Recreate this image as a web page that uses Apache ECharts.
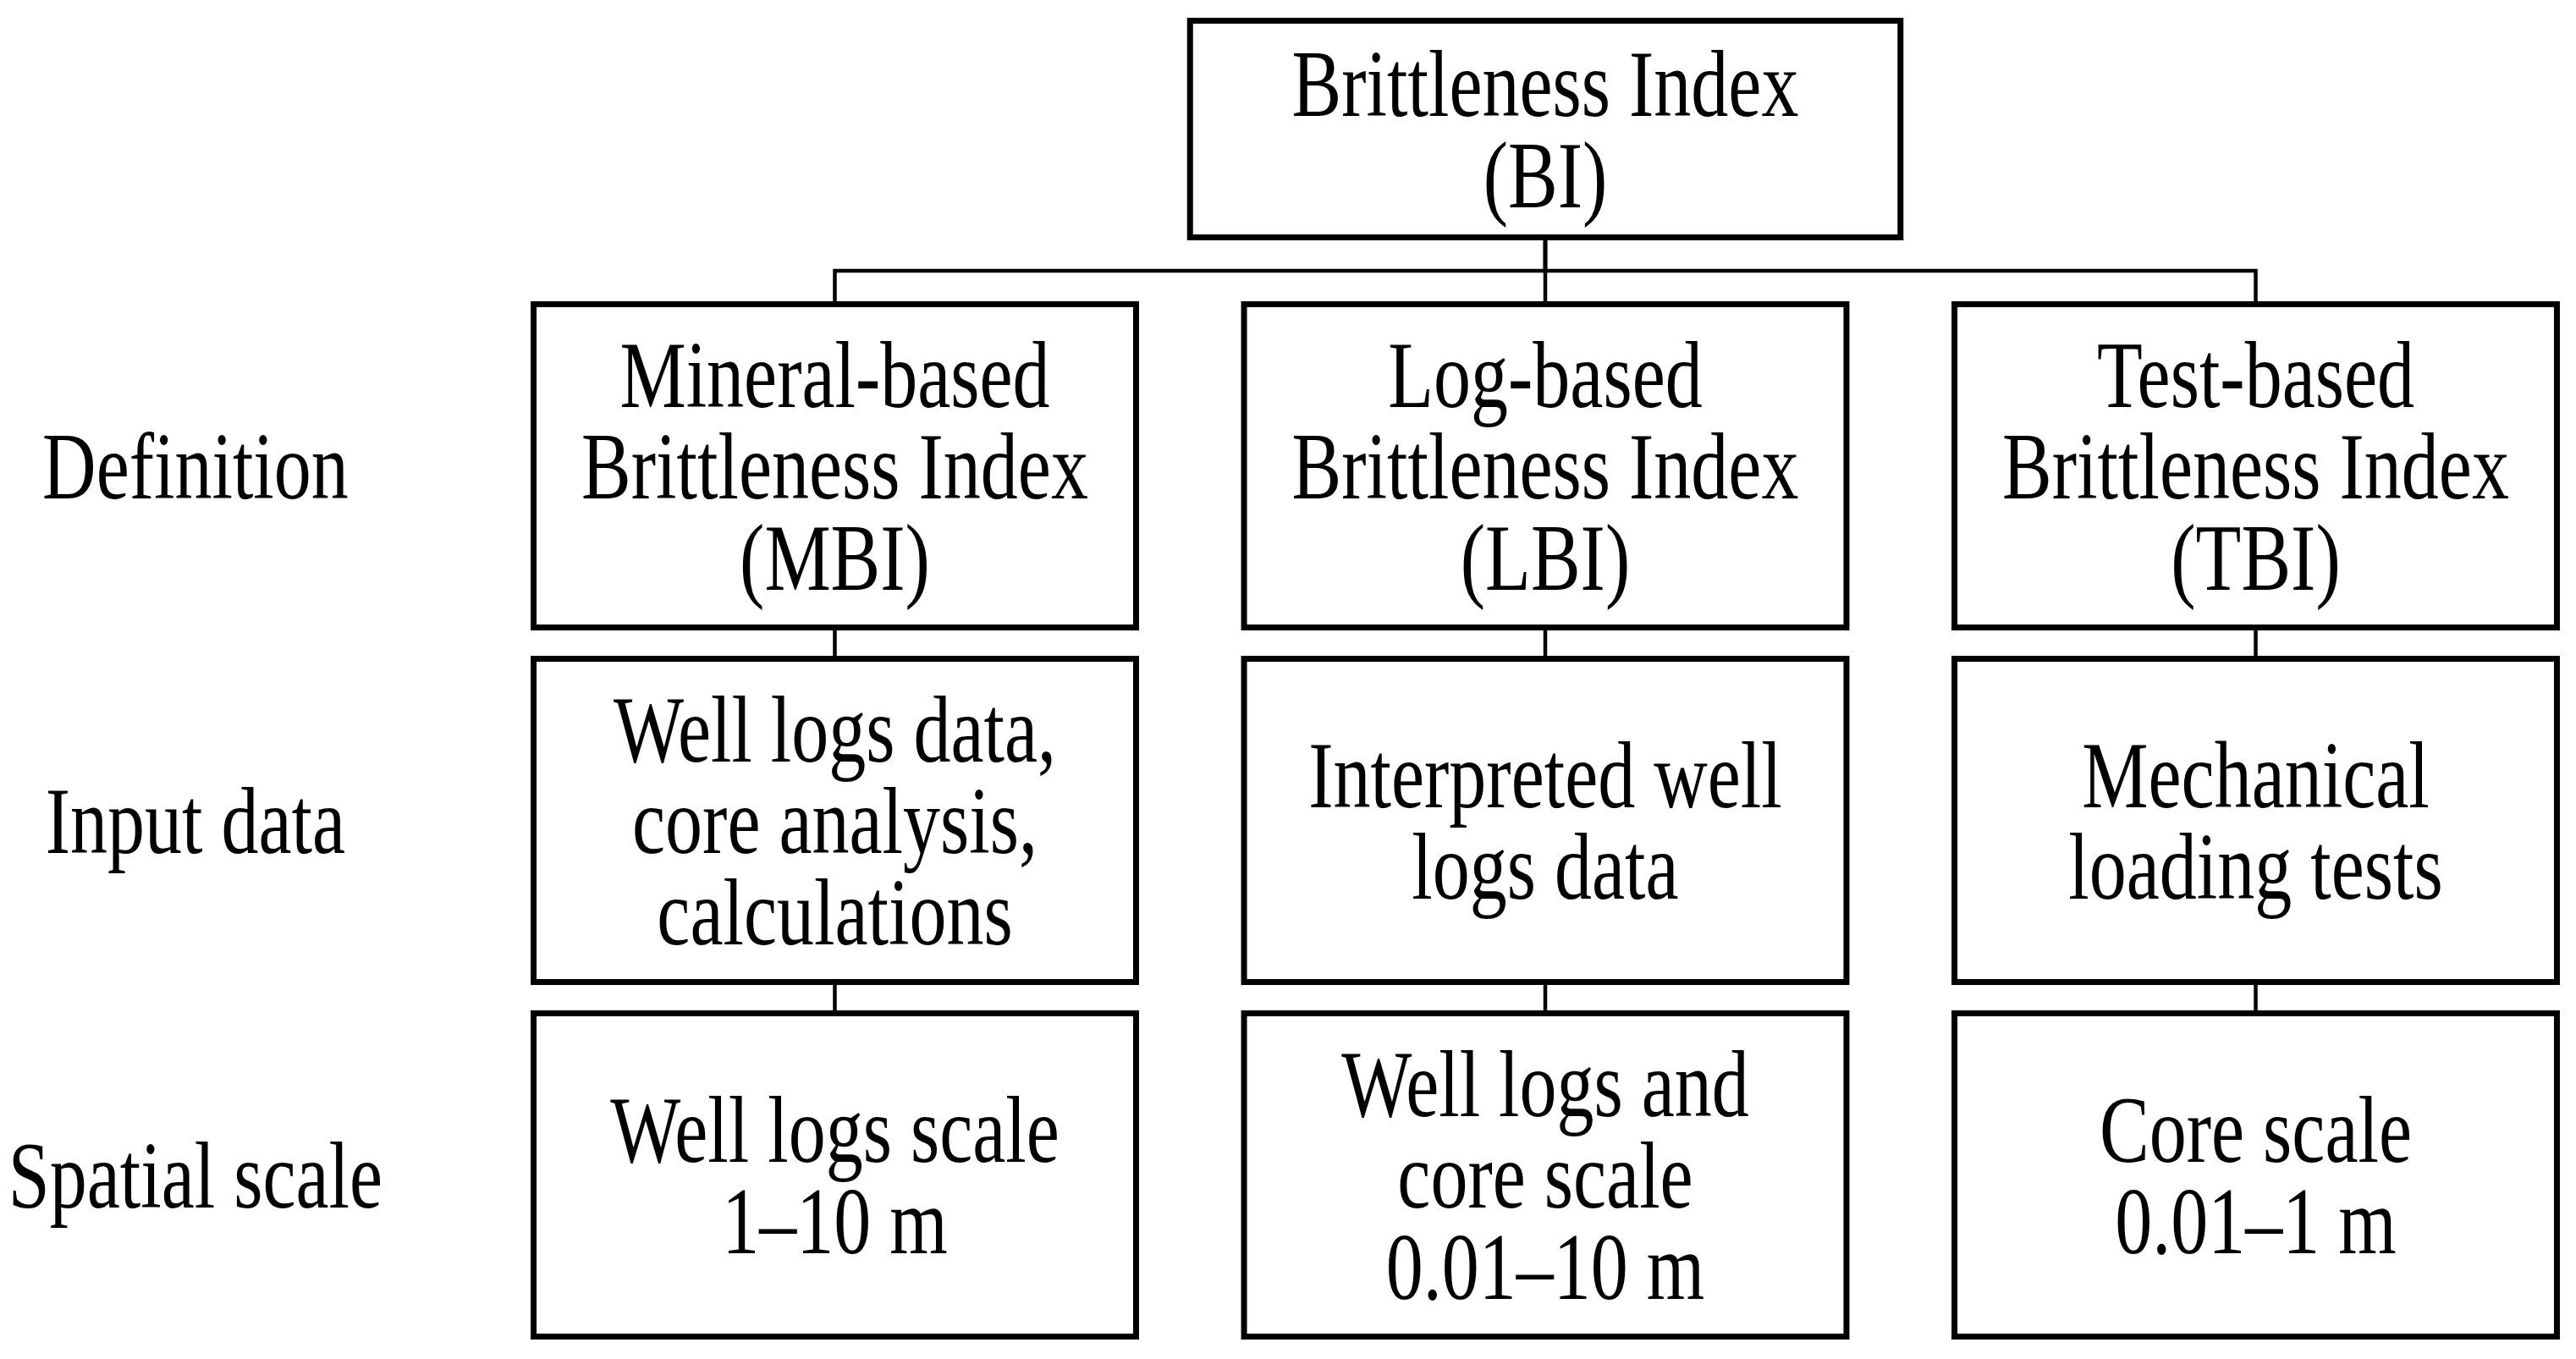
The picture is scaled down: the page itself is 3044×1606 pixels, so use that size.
<!DOCTYPE html>
<html>
<head>
<meta charset="utf-8">
<title>Brittleness Index</title>
<script src="https://cdn.jsdelivr.net/npm/echarts@6/dist/echarts.min.js"></script>
<style>
  html, body { margin: 0; padding: 0; background: #fff; }
  #chart { width: 3044px; height: 1606px; }
</style>
</head>
<body>
<div id="chart"></div>
<script>
// row labels on the left
var rowLabels = ['Definition', 'Input data', 'Spatial scale'];
var rowLevels = [1, 2, 3];
var labelCol = 0.1;

// boxes: column, level and text
var nodeText = [
    'Brittleness Index\n(BI)',
    'Mineral-based\nBrittleness Index\n(MBI)',
    'Log-based\nBrittleness Index\n(LBI)',
    'Test-based\nBrittleness Index\n(TBI)',
    'Well logs data,\ncore analysis,\ncalculations',
    'Interpreted well\nlogs data',
    'Mechanical\nloading tests',
    'Well logs scale\n1\u201310 m',
    'Well logs and\ncore scale\n0.01\u201310 m',
    'Core scale\n0.01\u20131 m'
];
var nodeCol = [2, 1, 2, 3, 1, 2, 3, 1, 2, 3];
var nodeLevel = [0.05, 1, 1, 1, 2, 2, 2, 3, 3, 3];

// parent -> child links
var edges = [[0, 1], [0, 2], [0, 3], [1, 4], [2, 5], [3, 6], [4, 7], [5, 8], [6, 9]];

// box sizes in axis units
var rootSize = [1.0, 0.611];
var boxSize = [0.848, 0.912];

var fontFamily = '"Liberation Serif", "Times New Roman", serif';
var stretchY = 1.27;
var textShift = 9;

function sizeOf(i) {
    return i === 0 ? rootSize : boxSize;
}

function textEl(cx, cy, text) {
    return {
        type: 'text',
        x: cx,
        y: cy + textShift,
        scaleY: stretchY,
        style: {
            text: text,
            x: 0,
            y: 0,
            fontSize: 88,
            lineHeight: 85,
            fontFamily: fontFamily,
            fill: '#000',
            align: 'center',
            verticalAlign: 'middle'
        }
    };
}

var nodeData = [];
for (var i = 0; i < nodeText.length; i++) {
    nodeData.push([nodeCol[i], nodeLevel[i], i]);
}
var edgeData = [];
for (var j = 0; j < edges.length; j++) {
    var a = edges[j][0], b = edges[j][1];
    edgeData.push([nodeCol[a], nodeLevel[a], nodeCol[b], nodeLevel[b], j]);
}
var labelData = [];
for (var k = 0; k < rowLabels.length; k++) {
    labelData.push([labelCol, rowLevels[k], k]);
}

var myChart = echarts.init(document.getElementById('chart'));
var option = {
    animation: false,
    backgroundColor: '#fff',
    grid: { left: 147, top: 131.5, width: 2854.3, height: 1466.5 },
    xAxis: { type: 'value', min: 0, max: 3.4, show: false },
    yAxis: { type: 'value', min: 0, max: 3.5, inverse: true, show: false },
    series: [
        {
            type: 'custom',
            name: 'links',
            z: 1,
            data: edgeData,
            encode: { x: [0, 2], y: [1, 3] },
            renderItem: function (params, api) {
                var e = edges[api.value(4)];
                var p = api.coord([api.value(0), api.value(1)]);
                var c = api.coord([api.value(2), api.value(3)]);
                var ph = api.size(sizeOf(e[0]))[1];
                var ch = api.size(sizeOf(e[1]))[1];
                var y1 = p[1] + ph / 2;
                var y2 = c[1] - ch / 2;
                var mid = (y1 + y2) / 2;
                return {
                    type: 'polyline',
                    shape: { points: [[p[0], y1], [p[0], mid], [c[0], mid], [c[0], y2]] },
                    style: { stroke: '#000', lineWidth: 4.5, fill: null }
                };
            }
        },
        {
            type: 'custom',
            name: 'boxes',
            z: 2,
            data: nodeData,
            encode: { x: 0, y: 1 },
            renderItem: function (params, api) {
                var idx = api.value(2);
                var c = api.coord([api.value(0), api.value(1)]);
                var s = api.size(sizeOf(idx));
                return {
                    type: 'group',
                    children: [
                        {
                            type: 'rect',
                            shape: { x: c[0] - s[0] / 2, y: c[1] - s[1] / 2, width: s[0], height: s[1] },
                            style: { fill: '#fff', stroke: '#000', lineWidth: 7 }
                        },
                        textEl(c[0], c[1], nodeText[idx])
                    ]
                };
            }
        },
        {
            type: 'custom',
            name: 'row labels',
            z: 2,
            data: labelData,
            encode: { x: 0, y: 1 },
            renderItem: function (params, api) {
                var c = api.coord([api.value(0), api.value(1)]);
                return textEl(c[0], c[1], rowLabels[api.value(2)]);
            }
        }
    ]
};
myChart.setOption(option);
</script>
</body>
</html>
